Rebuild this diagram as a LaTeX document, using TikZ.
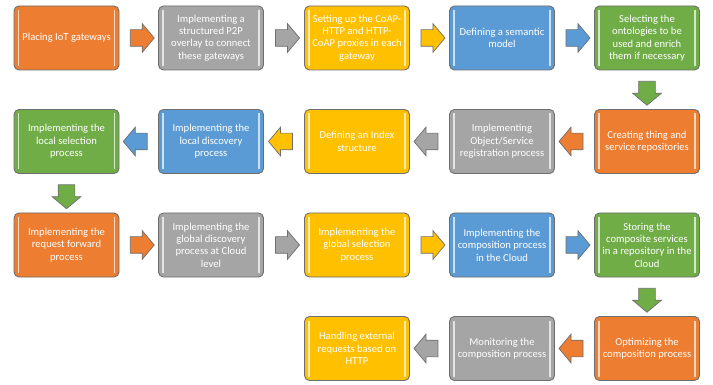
\documentclass[tikz,border=0pt]{standalone}
\usepackage{fontspec}
\setmainfont{Carlito}
\usetikzlibrary{shapes.arrows,calc}
\definecolor{cOr}{HTML}{ED7D31}
\definecolor{cGy}{HTML}{A5A5A5}
\definecolor{cYe}{HTML}{FFC000}
\definecolor{cBl}{HTML}{5B9BD5}
\definecolor{cGr}{HTML}{70AD47}
\definecolor{cEdge}{HTML}{6E6E6E}
\tikzset{
  stepbox/.style={draw=cEdge, line width=0.9pt, rounded corners=5pt, fill=#1,
    minimum width=105pt, minimum height=64pt, align=center,
    inner sep=0pt, text=white, font=\fontsize{10.6}{12.4}\selectfont,
    path picture={
      \draw[white, opacity=0.7, line width=1.4pt]
        ([shift={(4.5pt,-4pt)}]path picture bounding box.north west) --
        ([shift={(4.5pt,4pt)}]path picture bounding box.south west);
      \draw[white, opacity=0.7, line width=1.4pt]
        ([shift={(-4.5pt,-4pt)}]path picture bounding box.north east) --
        ([shift={(-4.5pt,4pt)}]path picture bounding box.south east);
    }},
  flow/.style={single arrow, draw=cEdge, line width=0.7pt, fill=#1,
    minimum height=24pt, inner xsep=0pt, inner ysep=8pt,
    single arrow head extend=6pt, single arrow tip angle=100},
  toleft/.style={rotate=180},
  todown/.style={rotate=-90}
}
\begin{document}
\begin{tikzpicture}[x=1pt,y=-1pt]
\useasboundingbox (0,0) rectangle (713,385);
% row 1
\node[stepbox=cOr] (b1) at (66.5,38) {Placing IoT gateways};
\node[stepbox=cGy] (b2) at (211,38) {Implementing a\\structured P2P\\overlay to connect\\these gateways};
\node[stepbox=cYe] (b3) at (357,38) {Setting up the CoAP-\\HTTP and HTTP-\\CoAP proxies in each\\gateway};
\node[stepbox=cBl] (b4) at (502,38) {Defining a semantic\\model};
\node[stepbox=cGr] (b5) at (647,38) {Selecting the\\ontologies to be\\used and enrich\\them if necessary};
% row 2
\node[stepbox=cOr] (b6) at (647,141.5) {Creating thing and\\service repositories};
\node[stepbox=cGy] (b7) at (502,141.5) {Implementing\\Object/Service\\registration process};
\node[stepbox=cYe] (b8) at (357,141.5) {Defining an Index\\structure};
\node[stepbox=cBl] (b9) at (211,141.5) {Implementing the\\local discovery\\process};
\node[stepbox=cGr] (b10) at (66.5,141.5) {Implementing the\\local selection\\process};
% row 3
\node[stepbox=cOr] (b11) at (66.5,245) {Implementing the\\request forward\\process};
\node[stepbox=cGy] (b12) at (211,245) {Implementing the\\global discovery\\process at Cloud\\level};
\node[stepbox=cYe] (b13) at (357,245) {Implementing the\\global selection\\process};
\node[stepbox=cBl] (b14) at (502,245) {Implementing the\\composition process\\in the Cloud};
\node[stepbox=cGr] (b15) at (647,245) {Storing the\\composite services\\in a repository in the\\Cloud};
% row 4
\node[stepbox=cOr] (b16) at (647,348.5) {Optimizing the\\composition process};
\node[stepbox=cGy] (b17) at (502,348.5) {Monitoring the\\composition process};
\node[stepbox=cYe] (b18) at (357,348.5) {Handling external\\requests based on\\HTTP};
% arrows
\node[flow=cOr] (a1) at ($(b1.east)!0.5!(b2.west)$) {};
\node[flow=cGy] (a2) at ($(b2.east)!0.5!(b3.west)$) {};
\node[flow=cYe] (a3) at ($(b3.east)!0.5!(b4.west)$) {};
\node[flow=cBl] (a4) at ($(b4.east)!0.5!(b5.west)$) {};
\node[flow=cGr,todown] (a5) at ($(b5.south)!0.5!(b6.north)$) {};
\node[flow=cOr,toleft] (a6) at ($(b6.west)!0.5!(b7.east)$) {};
\node[flow=cGy,toleft] (a7) at ($(b7.west)!0.5!(b8.east)$) {};
\node[flow=cYe,toleft] (a8) at ($(b8.west)!0.5!(b9.east)$) {};
\node[flow=cBl,toleft] (a9) at ($(b9.west)!0.5!(b10.east)$) {};
\node[flow=cGr,todown] (a10) at ($(b10.south)!0.5!(b11.north)$) {};
\node[flow=cOr] (a11) at ($(b11.east)!0.5!(b12.west)$) {};
\node[flow=cGy] (a12) at ($(b12.east)!0.5!(b13.west)$) {};
\node[flow=cYe] (a13) at ($(b13.east)!0.5!(b14.west)$) {};
\node[flow=cBl] (a14) at ($(b14.east)!0.5!(b15.west)$) {};
\node[flow=cGr,todown] (a15) at ($(b15.south)!0.5!(b16.north)$) {};
\node[flow=cOr,toleft] (a16) at ($(b16.west)!0.5!(b17.east)$) {};
\node[flow=cGy,toleft] (a17) at ($(b17.west)!0.5!(b18.east)$) {};
\end{tikzpicture}
\end{document}
